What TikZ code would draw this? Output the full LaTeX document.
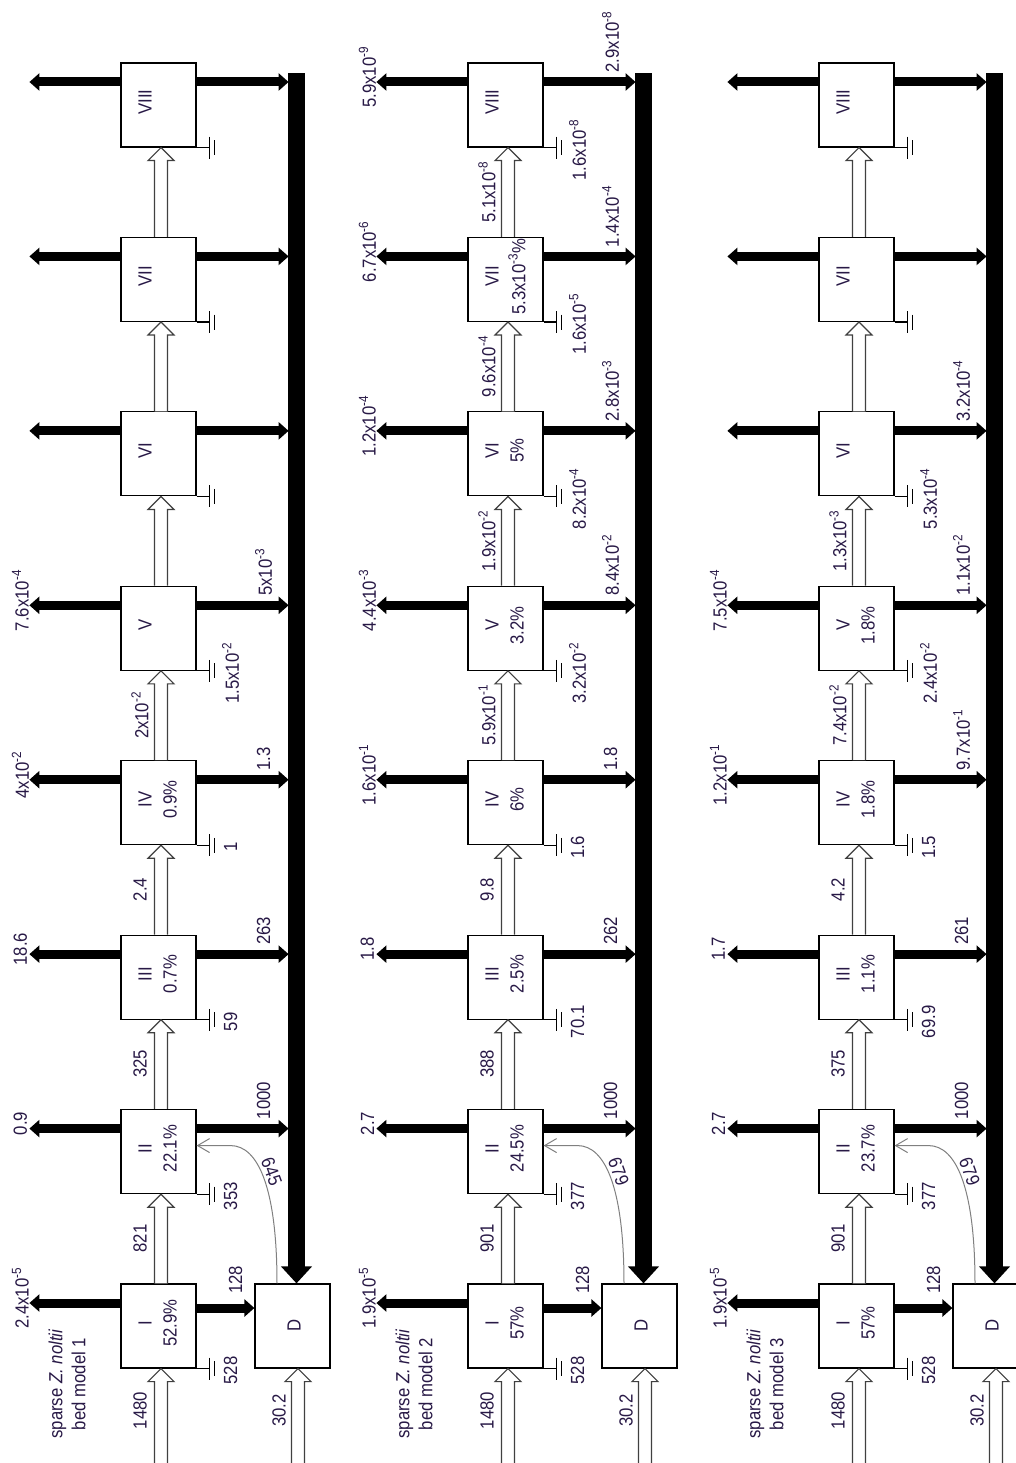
\documentclass[tikz,border=0pt]{standalone}
\usepackage{fontspec}
\setmainfont{Liberation Sans}[FakeStretch=0.88]
\usetikzlibrary{arrows.meta,calc}
\definecolor{txt}{RGB}{40,25,70}
\newcommand\ee[1]{x10\textsuperscript{-#1}}
\newcommand\hollowarr[2]{%
  \path[hol] let \p1=(#1), \p2=(#2) in
    (\x2-3.25pt,\y1) -- (\x2-3.25pt,\y2-6.5pt) -- (\x2-6.5pt,\y2-6.5pt) -- (\x2,\y2)
    -- (\x2+6.5pt,\y2-6.5pt) -- (\x2+3.25pt,\y2-6.5pt) -- (\x2+3.25pt,\y1);}
\begin{document}
\begin{tikzpicture}[x=0.5pt,y=-0.5pt,
  font=\fontsize{9.5}{11.5}\selectfont,
  box/.style={draw=black, line width=0.6pt, fill=white, minimum width=37.5pt, minimum height=42pt, inner sep=0pt},
  blk/.style={line width=4.5pt, -{Triangle[width=8.5pt,length=5pt]}},
  bus/.style={line width=8.5pt, -{Triangle[width=15pt,length=8.5pt]}},
  lab/.style={rotate=90, inner sep=0pt, text=txt},
  gnd/.style={line width=0.6pt},
  hol/.style={draw=black!75, line width=0.6pt, fill=white},
  curv/.style={gray, line width=0.5pt, -{Straight Barb[length=6pt,width=7pt]}},
]
\fill[white] (0,0) rectangle (1016,1463);
\useasboundingbox (0,0) rectangle (1016,1463);
\clip (0,0) rectangle (1016,1463);

\foreach \m/\ox in {1/0,2/347,3/698}{
  % boxes
  \foreach \k in {1,...,8}{
    \pgfmathsetmacro\cy{1326-(\k-1)*174.43}
    \node[box] (m\m b\k) at (\ox+158.5,\cy) {};
  }
  \node[box] (m\m D) at (\ox+292.5,1326) {};
  \node[lab] at ($(m\m D.center)+(1.5,-1)$) {D};
  \foreach \k/\r in {1/I,2/II,3/III,4/IV,5/V,6/VI,7/VII,8/VIII}
    \node[lab] at ($(m\m b\k.center)+(-13.5,-3)$) {\r};
  % ground symbols
  \foreach \k in {1,...,8}
    \draw[gnd] (m\m b\k.south east) -- ++(12.5,0) ++(0,-11) -- ++(0,22) ++(5,-18.5) -- ++(0,15);
  % hollow arrows
  \coordinate (m\m in) at (\ox+161,1480);
  \coordinate (m\m din) at (\ox+298,1480);
  \hollowarr{m\m in}{[xshift=1.25pt]m\m b1.south}
  \hollowarr{m\m din}{[xshift=2.75pt]m\m D.south}
  \foreach \k in {1,...,7}{
    \pgfmathtruncatemacro\kk{\k+1}
    \hollowarr{[xshift=1.25pt]m\m b\k.north}{[xshift=1.25pt]m\m b\kk.south}
  }
  % black arrows
  \foreach \k in {1,...,8}
    \draw[blk] ($(m\m b\k.west)+(0,-23)$) -- ++(-91,0);
  \foreach \k in {2,...,8}
    \draw[blk] ($(m\m b\k.east)+(0,-23)$) -- ++(92,0);
  \draw[blk] ($(m\m b1.east)+(0,-18)$) -- ($(m\m D.west)+(0,-18)$);
  % bus
  \coordinate (m\m bus) at (\ox+296.5,73);
  \draw[bus] (m\m bus) -- (m\m bus |- m\m D.north);
  % recycled flow curve
  \draw[curv] ([xshift=-7.75pt]m\m D.north) .. controls +(0,-94) and +(28,0) .. ($(m\m b2.east)+(34,-6)$) -- ($(m\m b2.east)+(0,-6)$);
  % title and inputs
  \node[lab,align=center] at (\ox+67,1384) {sparse \textit{Z. noltii}\\bed model \m};
  \node[lab] at ($(m\m b1.south)+(-18.5,42)$) {1480};
  \node[lab] at ($(m\m D.south)+(-13.5,42)$) {30.2};
  \node[lab,anchor=west] at ($(m\m b1.east)+(39,-32)$) {128};
}

% ---------- model 1 labels ----------
\foreach \k/\t in {1/{2.4\ee{5}},2/{0.9},3/{18.6},4/{4\ee{2}},5/{7.6\ee{4}}}
  \node[lab] at ($(m1b\k.west)+(-100,-28)$) {\t};
\foreach \k/\t in {2/{1000},3/{263},4/{1.3},5/{5\ee{3}}}
  \node[lab,anchor=west] at ($(m1b\k.east)+(67,-32)$) {\t};
\foreach \k/\t in {1/{528},2/{353},3/{59},4/{1},5/{1.5\ee{2}}}
  \node[lab] at ($(m1b\k.south east)+(34,2)$) {\t};
\foreach \k/\t in {1/{821},2/{325},3/{2.4},4/{2\ee{2}}}
  \node[lab] at ($(m1b\k.north)+(-18.5,-45)$) {\t};
\foreach \k/\t in {1/{52.9\%},2/{22.1\%},3/{0.7\%},4/{0.9\%}}
  \node[lab] at ($(m1b\k.center)+(11.5,-3)$) {\t};
\node[lab,rotate=-160] at ($(m1b2.east)+(75,20)$) {645};

% ---------- model 2 labels ----------
\foreach \k/\t in {1/{1.9\ee{5}},2/{2.7},3/{1.8},4/{1.6\ee{1}},5/{4.4\ee{3}},6/{1.2\ee{4}},7/{6.7\ee{6}},8/{5.9\ee{9}}}
  \node[lab] at ($(m2b\k.west)+(-100,-28)$) {\t};
\foreach \k/\t in {2/{1000},3/{262},4/{1.8},5/{8.4\ee{2}},6/{2.8\ee{3}},7/{1.4\ee{4}},8/{2.9\ee{8}}}
  \node[lab,anchor=west] at ($(m2b\k.east)+(67,-32)$) {\t};
\foreach \k/\t in {1/{528},2/{377},3/{70.1},4/{1.6},5/{3.2\ee{2}},6/{8.2\ee{4}},7/{1.6\ee{5}},8/{1.6\ee{8}}}
  \node[lab] at ($(m2b\k.south east)+(34,2)$) {\t};
\foreach \k/\t in {1/{901},2/{388},3/{9.8},4/{5.9\ee{1}},5/{1.9\ee{2}},6/{9.6\ee{4}},7/{5.1\ee{8}}}
  \node[lab] at ($(m2b\k.north)+(-18.5,-45)$) {\t};
\foreach \k/\t in {1/{57\%},2/{24.5\%},3/{2.5\%},4/{6\%},5/{3.2\%},6/{5\%},7/{5.3\ee{3}\%}}
  \node[lab] at ($(m2b\k.center)+(11.5,-3)$) {\t};
\node[lab,rotate=-160] at ($(m2b2.east)+(75,20)$) {679};

% ---------- model 3 labels ----------
\foreach \k/\t in {1/{1.9\ee{5}},2/{2.7},3/{1.7},4/{1.2\ee{1}},5/{7.5\ee{4}}}
  \node[lab] at ($(m3b\k.west)+(-100,-28)$) {\t};
\foreach \k/\t in {2/{1000},3/{261},4/{9.7\ee{1}},5/{1.1\ee{2}},6/{3.2\ee{4}}}
  \node[lab,anchor=west] at ($(m3b\k.east)+(67,-32)$) {\t};
\foreach \k/\t in {1/{528},2/{377},3/{69.9},4/{1.5},5/{2.4\ee{2}},6/{5.3\ee{4}}}
  \node[lab] at ($(m3b\k.south east)+(34,2)$) {\t};
\foreach \k/\t in {1/{901},2/{375},3/{4.2},4/{7.4\ee{2}},5/{1.3\ee{3}}}
  \node[lab] at ($(m3b\k.north)+(-18.5,-45)$) {\t};
\foreach \k/\t in {1/{57\%},2/{23.7\%},3/{1.1\%},4/{1.8\%},5/{1.8\%}}
  \node[lab] at ($(m3b\k.center)+(11.5,-3)$) {\t};
\node[lab,rotate=-160] at ($(m3b2.east)+(75,20)$) {679};
\end{tikzpicture}
\end{document}
